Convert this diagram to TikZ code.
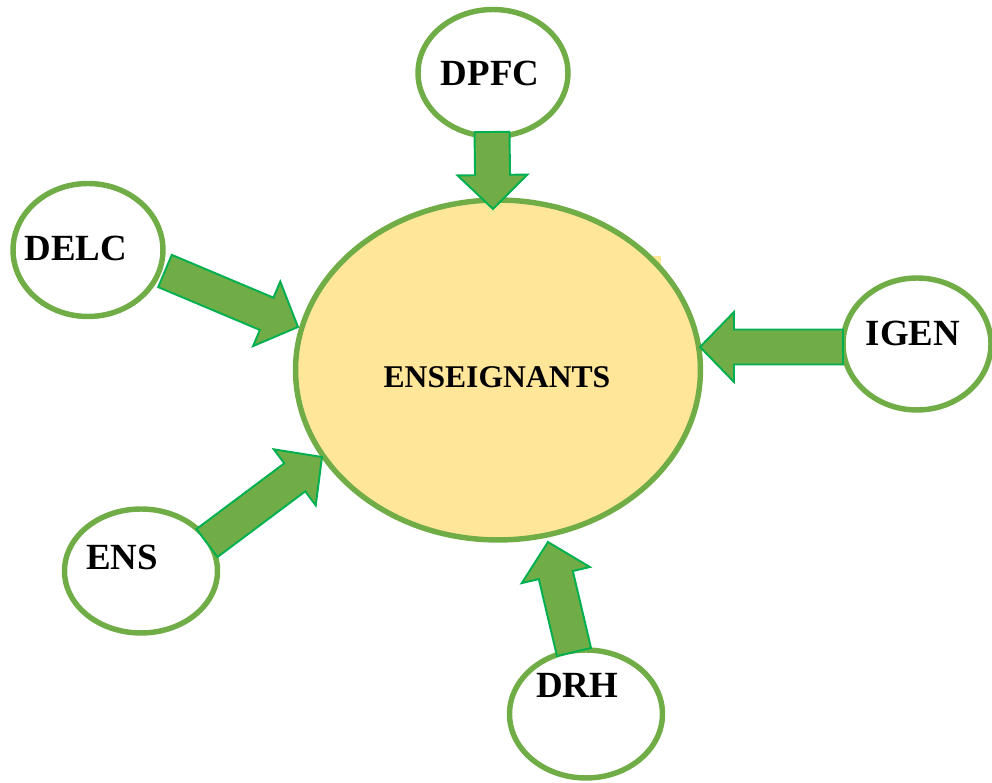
\documentclass[tikz,border=0pt]{standalone}
\usepackage{fontspec}
\setmainfont{Liberation Serif}
\usetikzlibrary{shapes.geometric,calc}

\definecolor{ringgreen}{HTML}{70AD47}
\definecolor{edgegreen}{HTML}{00B050}
\definecolor{centreyellow}{HTML}{FFE699}

\tikzset{
  bubble/.style={ellipse, draw=ringgreen, line width=3.1pt, fill=white, inner sep=0pt},
  centre/.style={bubble, fill=centreyellow},
  tag/.style={font=\fontsize{21}{25}\selectfont\bfseries, inner sep=0pt},
  arrowbody/.style={fill=ringgreen, draw=edgegreen, line width=1.1pt, line join=miter}
}

% block arrow from #1 (tail) to #2 (tip)
\newcommand{\flowarrow}[2]{%
  \coordinate (#1-b) at ($(#2)!0.68cm!(#1)$);
  \filldraw[arrowbody] ($(#1)!0.35cm!90:(#2)$) -- ($(#1-b)!0.35cm!-90:(#1)$)
    -- ($(#1-b)!0.7cm!-90:(#1)$) -- (#2) -- ($(#1-b)!0.7cm!90:(#1)$)
    -- ($(#1-b)!0.35cm!90:(#1)$) -- ($(#1)!0.35cm!-90:(#2)$) -- cycle;}

\begin{document}
\begin{tikzpicture}[x=0.02cm, y=-0.02cm]
  \useasboundingbox (0,0) rectangle (992,783);

  % centre
  \fill[centreyellow] (600,256) rectangle (661,320);
  \node[centre, minimum width=8.1cm, minimum height=6.8cm] (ens-all) at (498,370) {};
  \node[tag, font=\fontsize{18}{22}\selectfont\bfseries] (ens-all-txt) at (497,377) {ENSEIGNANTS};

  % outer bubbles
  \node[bubble, minimum width=3.0cm, minimum height=2.54cm] (dpfc) at (493,73) {};
  \node[tag] (dpfc-txt) at (490,73) {DPFC};
  \node[bubble, minimum width=3.0cm, minimum height=2.66cm] (delc) at (88,250) {};
  \node[tag] (delc-txt) at (76,248) {DELC};
  \node[bubble, minimum width=2.96cm, minimum height=2.64cm] (igen) at (917,344) {};
  \node[tag] (igen-txt) at (913,333) {IGEN};
  \node[bubble, minimum width=3.06cm, minimum height=2.48cm] (ens) at (141,571) {};
  \node[tag] (ens-txt) at (122,557) {ENS};
  \node[bubble, minimum width=3.06cm, minimum height=2.56cm] (drh) at (586,714) {};
  \node[tag] (drh-txt) at (577,685) {DRH};

  % arrow ends
  \coordinate (dpfc-t) at (492,132);   \coordinate (dpfc-h) at (493,209);
  \coordinate (delc-t) at (165,271);   \coordinate (delc-h) at (298,327);
  \coordinate (igen-t) at (843,347);   \coordinate (igen-h) at (700,347);
  \coordinate (ens-t) at (207,543);    \coordinate (ens-h) at (322,457);
  \coordinate (drh-t) at (574,652);    \coordinate (drh-h) at (548,542);

  \flowarrow{dpfc-t}{dpfc-h}
  \flowarrow{delc-t}{delc-h}
  \flowarrow{igen-t}{igen-h}
  \flowarrow{ens-t}{ens-h}
  \flowarrow{drh-t}{drh-h}

\end{tikzpicture}
\end{document}
